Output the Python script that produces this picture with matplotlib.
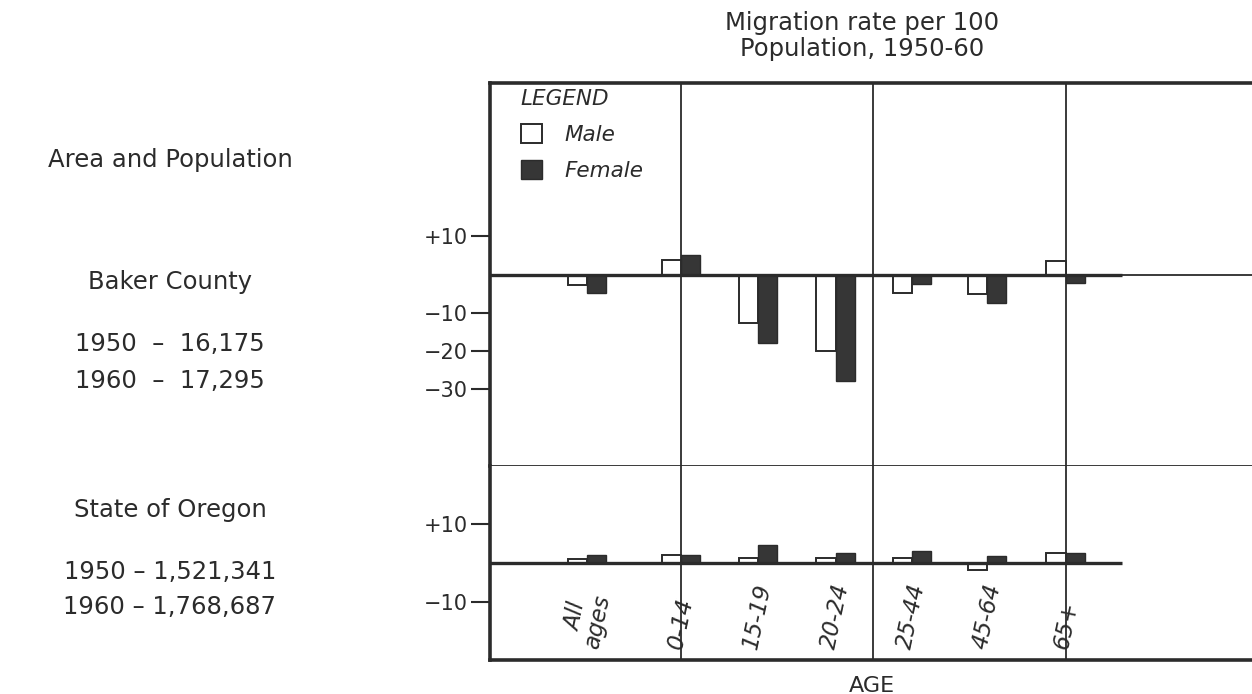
"""Migration rate per 100 population, Baker County and Oregon, 1950-60"""

import matplotlib.pyplot as plt
from matplotlib.patches import Patch

# Data
AGE_GROUPS = ["All\nages", "0-14", "15-19", "20-24", "25-44", "45-64", "65+"]
BAKER_MALE = [-2.8, 3.9, -12.7, -20.0, -4.7, -5.2, 3.4]
BAKER_FEMALE = [-4.7, 5.2, -17.9, -27.8, -2.6, -7.5, -2.3]
OREGON_MALE = [1.0, 2.1, 1.3, 1.3, 1.3, -1.8, 2.6]
OREGON_FEMALE = [2.1, 2.1, 4.7, 2.6, 3.1, 1.8, 2.6]

BAKER_TICKS = [10, -10, -20, -30]
BAKER_TICKLABELS = ["+10", "\u221210", "\u221220", "\u221230"]
OREGON_TICKS = [10, -10]
OREGON_TICKLABELS = ["+10", "\u221210"]

AREA_TEXT = ["Area and Population",
             "Baker County", "1950  \u2013  16,175", "1960  \u2013  17,295",
             "State of Oregon", "1950 \u2013 1,521,341", "1960 \u2013 1,768,687"]

# Layout
W, H = 1252, 694
GROUP_X = [0, 1.22, 2.22, 3.23, 4.22, 5.2, 6.22]
BAR_W = 0.25
XLIM = (-1.26, 8.77)
VLINES = [1.22, 3.71, 6.22]
LINE_END = 6.95
INK = "#2b2b2b"
DARK = "#363636"

plt.rcParams["font.family"] = "DejaVu Sans"
plt.rcParams["text.color"] = INK

fig = plt.figure(figsize=(W / 100, H / 100), dpi=100)
ax_top = fig.add_axes([490 / W, 1 - 466 / H, (1262 - 490) / W, (466 - 83) / H])
ax_bot = fig.add_axes([490 / W, 1 - 660 / H, (1262 - 490) / W, (660 - 466) / H])

panels = [(ax_top, BAKER_MALE, BAKER_FEMALE, (-50, 50), BAKER_TICKS, BAKER_TICKLABELS),
          (ax_bot, OREGON_MALE, OREGON_FEMALE, (-25, 25), OREGON_TICKS, OREGON_TICKLABELS)]

for ax, male, female, ylim, ticks, ticklabels in panels:
    ax.set_xlim(XLIM)
    ax.set_ylim(ylim)
    for xv in VLINES:
        ax.axvline(xv, color=INK, lw=1.3, zorder=1)
    x_m = [x - BAR_W / 2 for x in GROUP_X]
    x_f = [x + BAR_W / 2 for x in GROUP_X]
    ax.bar(x_m, male, width=BAR_W, facecolor="white", edgecolor=INK,
           linewidth=1.4, zorder=2)
    ax.bar(x_f, female, width=BAR_W, facecolor=DARK, edgecolor=INK,
           linewidth=1.0, zorder=2)
    ax.plot([XLIM[0], LINE_END], [0, 0], color=INK, lw=2.4, zorder=3,
            solid_capstyle="butt")

    ax.set_xticks([])
    ax.set_yticks(ticks)
    ax.set_yticklabels(ticklabels, fontsize=15)
    ax.tick_params(axis="y", direction="out", length=14, width=1.5,
                   color=INK, labelcolor=INK, pad=2)
    ax.spines["right"].set_visible(False)
    ax.spines["left"].set_linewidth(2.6)
    ax.spines["left"].set_color(INK)

# Baker panel: zero line continues thin to the edge
ax_top.plot([LINE_END, XLIM[1]], [0, 0], color=INK, lw=1.3, zorder=3)
ax_top.spines["top"].set_linewidth(2.6)
ax_top.spines["top"].set_color(INK)
ax_top.spines["bottom"].set_linewidth(1.3)
ax_top.spines["bottom"].set_color(INK)
ax_bot.spines["top"].set_visible(False)
ax_bot.spines["bottom"].set_linewidth(2.6)
ax_bot.spines["bottom"].set_color(INK)

# Age labels under the Oregon bars
for x, lab in zip(GROUP_X, AGE_GROUPS):
    ax_bot.text(x, -22.6, lab, rotation=78, ha="center", va="bottom",
                fontsize=16.5, style="italic", color=INK, linespacing=0.95)

# Legend
handles = [Patch(facecolor="white", edgecolor=INK, linewidth=1.4, label="Male"),
           Patch(facecolor=DARK, edgecolor=INK, linewidth=1.0, label="Female")]
ax_top.legend(handles=handles, loc="upper left", bbox_to_anchor=(0.04, 0.985),
              frameon=False, title="LEGEND", alignment="left", borderpad=0,
              prop={"style": "italic", "size": 15.5},
              title_fontproperties={"style": "italic", "size": 15.5},
              handlelength=1.0, handleheight=1.0, labelspacing=0.7,
              handletextpad=1.0, borderaxespad=0)

# Titles and side text
fig.text(862 / W, 1 - 36 / H, "Migration rate per 100\nPopulation, 1950-60",
         ha="center", va="center", fontsize=17.5, linespacing=1.1)
fig.text(872 / W, 1 - 676 / H, "AGE", ha="center", va="top", fontsize=16)

side_y = [160, 282, 344, 381, 510, 572, 607]
for txt, yp in zip(AREA_TEXT, side_y):
    fig.text(170 / W, 1 - yp / H, txt, ha="center", va="center", fontsize=17.5)

plt.savefig("out.png", dpi=100)
